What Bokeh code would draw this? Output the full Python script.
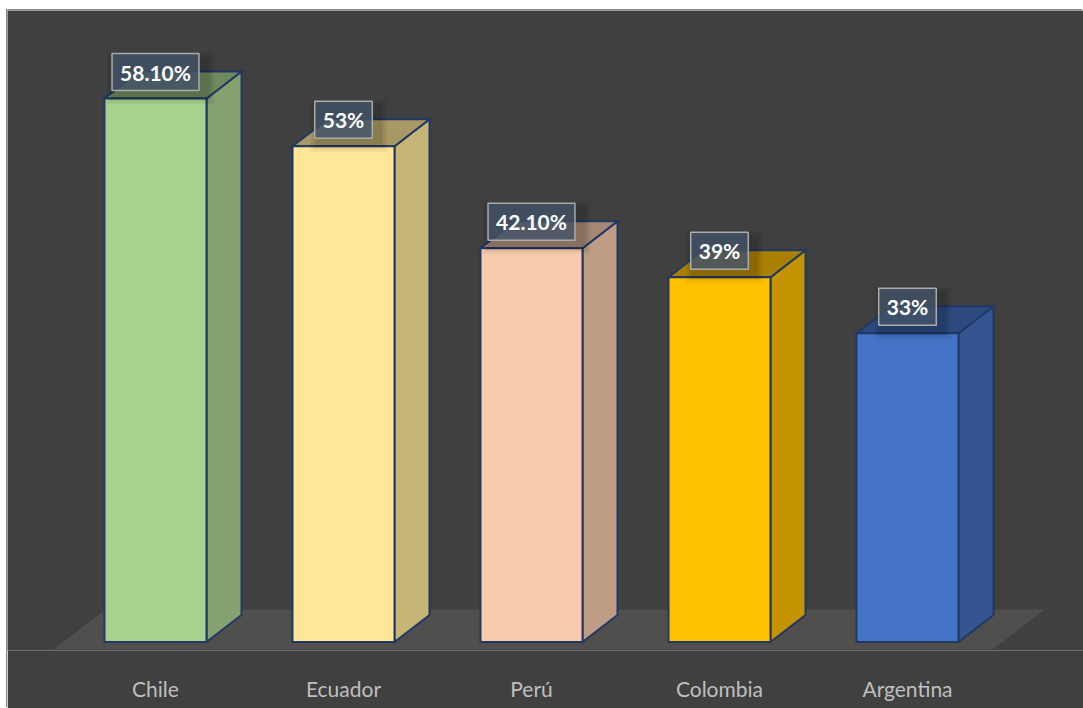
from bokeh.embed import file_html
from bokeh.models import ColumnDataSource, FixedTicker, Range1d
from bokeh.plotting import figure
from bokeh.resources import INLINE
from bokeh.core.properties import value
import numpy as np

countries = ["Chile", "Ecuador", "Perú", "Colombia", "Argentina"]
shares = [58.1, 53, 42.1, 39, 33]
share_labels = ["58.10%", "53%", "42.10%", "39%", "33%"]
front_colors = ["#A9D18E", "#FFE699", "#F8CBAD", "#FFC000", "#4472C4"]
side_colors = ["#84A16F", "#C7B477", "#BE9C85", "#C49400", "#345592"]
top_colors = ["#6F8A5C", "#A89863", "#A58874", "#AA8000", "#2D4A80"]

PANEL = "#404040"
EDGE = "#203864"

# Scale factors of the plotting frame, used for the oblique depth of the columns
PX_X = 188.0
PX_Y = 9.354
X0, BASE_PX, FRAME_L, FRAME_R, FRAME_T, FRAME_B = 155.0, 641.5, 7, 1083, 10, 650


def xd(px):
    return px / PX_X


def yd(px):
    return px / PX_Y


half = xd(51)
dx = xd(35)
dy = yd(27)
idx = np.arange(len(countries), dtype=float)
vals = np.array(shares, dtype=float)

p = figure(
    width=FRAME_R - FRAME_L,
    height=708 - FRAME_T,
    margin=(FRAME_T, 0, 0, FRAME_L),
    output_backend="svg",
    toolbar_location=None,
    x_range=Range1d(xd(FRAME_L - X0), xd(FRAME_R - X0)),
    y_range=Range1d(yd(BASE_PX - FRAME_B), yd(BASE_PX - FRAME_T)),
    min_border_left=0,
    min_border_right=0,
    min_border_top=0,
    min_border_bottom=58,
    background_fill_color=PANEL,
    border_fill_color=PANEL,
    outline_line_color=None,
    styles={"box-shadow": "-1px -1px 0 #858585"},
)
p.grid.visible = False
p.yaxis.visible = False

ax = p.xaxis[0]
ax.ticker = FixedTicker(ticks=list(idx))
ax.major_label_overrides = {float(i): c for i, c in enumerate(countries)}
ax.axis_line_color = None
ax.major_tick_line_color = None
ax.minor_tick_line_color = None
ax.major_label_standoff = 19
ax.major_label_text_color = "#BFBFBF"
ax.major_label_text_font = "Lato"
ax.major_label_text_font_size = "21px"

# Floor of the 3D scene
floor_back = yd(BASE_PX - 609)
floor_front = yd(BASE_PX - 649)
p.patch(
    [xd(53 - X0), xd(992 - X0), xd(1044 - X0), xd(105 - X0)],
    [floor_front, floor_front, floor_back, floor_back],
    fill_color="#514E4E",
    line_color=None,
)

left, right = idx - half, idx + half

# Hidden back edges seen through the translucent blue column
p.multi_line(
    [[left[4], left[4] + dx, right[4] + dx], [left[4] + dx, left[4] + dx]],
    [[0, dy, dy], [dy, vals[4] + dy]],
    line_color="#3A66B4",
    line_width=1.5,
)

sides = ColumnDataSource(dict(
    xs=[[r, r + dx, r + dx, r] for r in right],
    ys=[[0, dy, v + dy, v] for v in vals],
    color=side_colors,
))
tops = ColumnDataSource(dict(
    xs=[[l, r, r + dx, l + dx] for l, r in zip(left, right)],
    ys=[[v, v, v + dy, v + dy] for v in vals],
    color=top_colors,
))
fronts = ColumnDataSource(dict(
    left=left, right=right, bottom=np.zeros_like(vals), top=vals, color=front_colors,
))
outline = dict(line_color=EDGE, line_width=2, line_join="miter")
p.patches("xs", "ys", source=sides, fill_color="color", **outline)
p.patches("xs", "ys", source=tops, fill_color="color", **outline)
p.quad(left="left", right="right", bottom="bottom", top="top", source=fronts,
       fill_color="color", **outline)

# Data labels: a soft shadow, then a boxed value above each column
label_y = vals + yd(26.5)
for grow, alpha in [(14, 0.05), (9, 0.06), (4, 0.07)]:
    p.rect(
        idx + xd(5), label_y - yd(6),
        width=[(94 if len(t) > 3 else 63) + grow for t in share_labels],
        height=38 + grow,
        width_units="screen", height_units="screen",
        fill_color="#000000", fill_alpha=alpha, line_color=None,
    )

p.text(
    idx, label_y, text=share_labels,
    text_align="center", text_baseline="middle",
    text_color="#FFFFFF",
    text_font=value("Lato"), text_font_style="bold", text_font_size="21px",
    padding=(8, 6),
    background_fill_color="#44546A", background_fill_alpha=0.8,
    border_line_color="#ABABAB", border_line_width=1.5,
)

open("out.html", "w").write(file_html(p, INLINE))
